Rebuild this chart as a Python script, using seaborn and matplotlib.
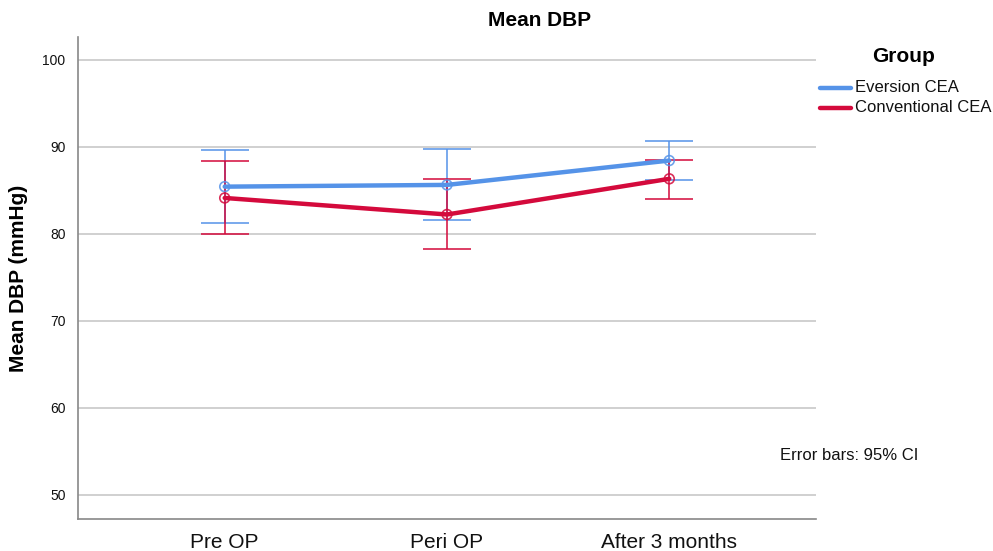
import matplotlib
matplotlib.use("Agg")
import matplotlib.pyplot as plt
import seaborn as sns
import pandas as pd
import numpy as np
from matplotlib.lines import Line2D

categories = ["Pre OP", "Peri OP", "After 3 months"]
groups = ["Eversion CEA", "Conventional CEA"]
eversion_mean = [85.4, 85.6, 88.4]
eversion_low = [81.2, 81.6, 86.2]
eversion_high = [89.6, 89.7, 90.6]
conventional_mean = [84.1, 82.2, 86.3]
conventional_low = [80.0, 78.2, 84.0]
conventional_high = [88.3, 86.3, 88.5]
yticks = [50, 60, 70, 80, 90, 100]

colors = {"Eversion CEA": "#5593e8", "Conventional CEA": "#d40a3c"}

rows = []
for g, m, lo, hi in [("Eversion CEA", eversion_mean, eversion_low, eversion_high),
                     ("Conventional CEA", conventional_mean, conventional_low, conventional_high)]:
    for i, c in enumerate(categories):
        rows.append({"Group": g, "Time": i, "Mean": m[i], "Low": lo[i], "High": hi[i]})
df = pd.DataFrame(rows)

sns.set_style("white")
plt.rcParams["font.family"] = ["Liberation Sans", "DejaVu Sans"]

fig = plt.figure(figsize=(9.93, 5.51), dpi=100)
ax = fig.add_axes([78/993, 1-519/551, (816-78)/993, (519-37)/551])

sns.lineplot(data=df, x="Time", y="Mean", hue="Group", hue_order=groups,
             palette=colors, linewidth=3.2, ax=ax, legend=False, zorder=3)

for g in groups:
    sub = df[df["Group"] == g]
    ax.errorbar(sub["Time"], sub["Mean"],
                yerr=[sub["Mean"] - sub["Low"], sub["High"] - sub["Mean"]],
                fmt="none", ecolor=colors[g], elinewidth=1.3, capsize=17.5,
                capthick=1.3, alpha=0.85, zorder=2)
    ax.scatter(sub["Time"], sub["Mean"], s=50, facecolors="none",
               edgecolors=colors[g], linewidths=1.2, zorder=4, alpha=0.85)

ax.set_xlim(-0.66, 2.66)
ax.set_ylim(47.2, 102.6)
ax.set_yticks(yticks)
ax.set_yticklabels([str(t) for t in yticks], fontsize=10, color="#111111")
ax.set_xticks(range(len(categories)))
ax.set_xticklabels(categories, fontsize=15, color="#111111")
ax.tick_params(axis="x", length=0, pad=10)
ax.tick_params(axis="y", length=0, pad=9)
for yv in yticks:
    ax.axhline(yv, color="#c8c8c8", linewidth=1.2, zorder=0)
ax.set_xlabel("")
ax.set_ylabel("Mean DBP (mmHg)", fontsize=15, fontweight="bold", labelpad=10,
              color="#000000")
for s in ["top", "right"]:
    ax.spines[s].set_visible(False)
for s in ["left", "bottom"]:
    ax.spines[s].set_color("#888888")
    ax.spines[s].set_linewidth(1.2)

fig.text(540/993, 1-21/551, "Mean DBP", ha="center", va="center",
         fontsize=15, fontweight="bold", color="#000000")
fig.text(904/993, 1-57/551, "Group", ha="center", va="center",
         fontsize=15, fontweight="bold", color="#000000")
for i, g in enumerate(groups):
    yy = 1-(88+20*i)/551
    fig.add_artist(Line2D([820/993, 851/993], [yy, yy], color=colors[g],
                          linewidth=3.2, transform=fig.transFigure))
    fig.text(855/993, yy, g, ha="left", va="center", fontsize=12, color="#111111")
fig.text(780/993, 1-455/551, "Error bars: 95% CI", ha="left", va="center",
         fontsize=12, color="#111111")

fig.savefig("out.png", dpi=100)
